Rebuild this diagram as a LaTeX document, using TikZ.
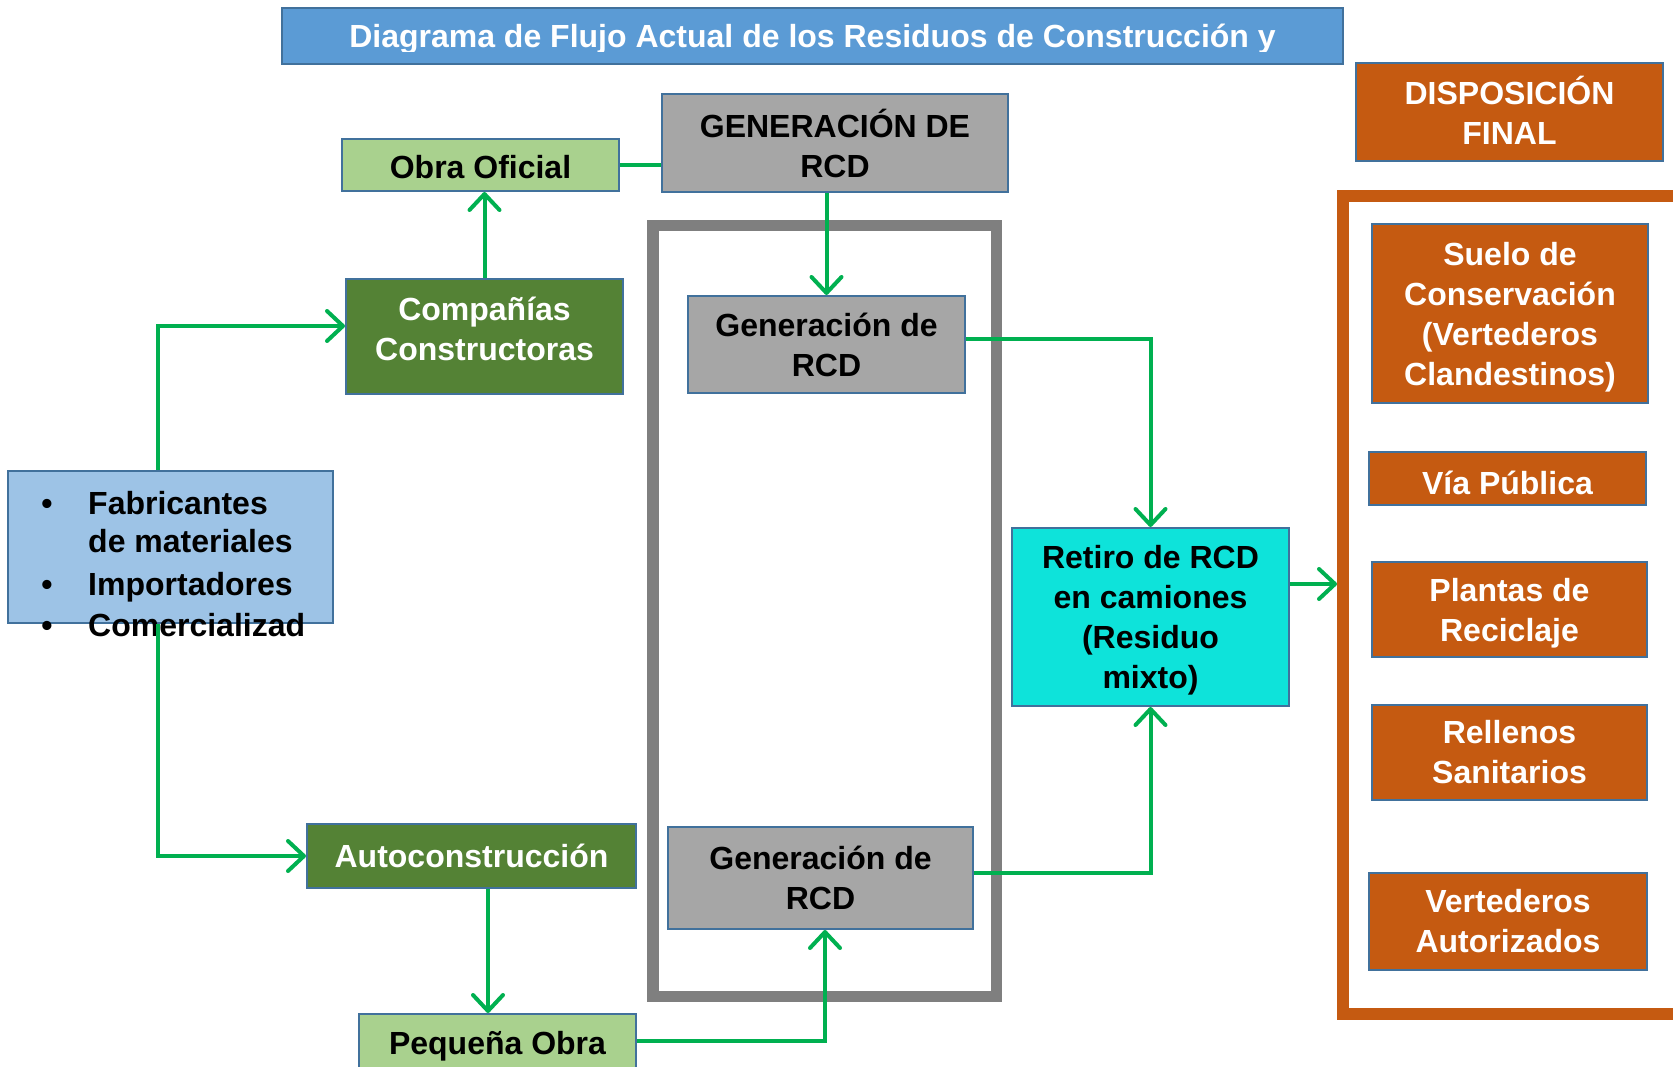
\documentclass[tikz,border=0pt]{standalone}
\usepackage{fontspec}
\setmainfont{Liberation Sans}
\usetikzlibrary{arrows.meta}

\definecolor{flowgreen}{RGB}{0,176,80}
\definecolor{edgeblue}{RGB}{65,113,156}
\definecolor{titleblue}{RGB}{91,155,213}
\definecolor{paleblue}{RGB}{157,195,230}
\definecolor{palegreen}{RGB}{169,209,142}
\definecolor{darkgreen}{RGB}{84,130,53}
\definecolor{midgray}{RGB}{166,166,166}
\definecolor{framegray}{RGB}{127,127,127}
\definecolor{rust}{RGB}{197,90,17}
\definecolor{aqua}{RGB}{14,227,218}

\begin{document}
\begin{tikzpicture}[x=1pt,y=-1pt,
  lbl/.style={font=\bfseries\fontsize{32}{40}\selectfont, inner sep=0pt, align=center},
  box/.style={lbl, draw=edgeblue, line width=2pt},
  greenbox/.style={box, fill=palegreen, text=black},
  darkbox/.style={box, fill=darkgreen, text=white},
  graybox/.style={box, fill=midgray, text=black},
  rustbox/.style={box, fill=rust, text=white},
  flow/.style={draw=flowgreen, line width=4pt},
  arr/.style={flow, -{Straight Barb[length=16pt,width=30pt,line cap=round,line join=round]}},
  itemtext/.style={lbl, anchor=base west},
  bulletmark/.style={lbl, anchor=base}
]
\useasboundingbox (0,0) rectangle (1673,1067);

% title banner (second line cut off by the box)
\node[box, fill=titleblue, minimum width=1061pt, minimum height=56pt] (title) at (812.5,36) {};
\begin{scope}
  \clip (282,8) rectangle (1343,52);
  \node[lbl, text=white, anchor=base] (titletext) at (812.5,48)
    {Diagrama de Flujo Actual de los Residuos de Construcción y};
\end{scope}

% frames
\node[draw=framegray, line width=11.5pt, minimum width=343.5pt, minimum height=771pt, inner sep=0pt] (genframe) at (824.75,611) {};
\node[draw=rust, line width=12pt, minimum width=336pt, minimum height=817.5pt, inner sep=0pt] (dispframe) at (1511,605.25) {};

% generation side
\node[greenbox, minimum width=277pt, minimum height=52pt] (obra) at (480.5,165) {};
\node[lbl] (obralabel) at (480.5,167) {Obra Oficial};
\node[graybox, minimum width=346pt, minimum height=98pt] (gen) at (835,143) {GENERACIÓN DE\\RCD};
\node[graybox, minimum width=277pt, minimum height=97pt] (gentop) at (826.5,344.5) {Generación de\\RCD};
\node[darkbox, minimum width=277pt, minimum height=115pt] (comp) at (484.5,336.5) {};
\node[lbl, text=white] (complabel) at (484.5,329) {Compañías\\Constructoras};
\node[darkbox, minimum width=329pt, minimum height=64pt] (auto) at (471.5,856) {Autoconstrucción};
\node[greenbox, minimum width=277pt, minimum height=54pt] (peq) at (497.5,1041) {};
\node[lbl] (peqlabel) at (497.5,1046) {Pequeña Obra};
\node[graybox, minimum width=305pt, minimum height=102pt] (genbot) at (820.5,878) {Generación de\\RCD};
\node[box, fill=aqua, minimum width=277pt, minimum height=178pt] (ret) at (1150.5,617) {};
\node[lbl] (retlabel) at (1150.5,620) {Retiro de RCD\\en camiones\\(Residuo\\mixto)};

% suppliers box with its list
\node[box, fill=paleblue, minimum width=325pt, minimum height=152pt] (src) at (170.5,547) {};
\node[bulletmark] (b1) at (47,514) {•};
\node[itemtext] (i1) at (88,514) {Fabricantes};
\node[itemtext] (i1b) at (88,552) {de materiales};
\node[bulletmark] (b2) at (47,595) {•};
\node[itemtext] (i2) at (88,595) {Importadores};
\node[bulletmark] (b3) at (47,636) {•};
\node[itemtext] (i3) at (88,636) {Comercializad};

% final disposal
\node[rustbox, minimum width=307pt, minimum height=98pt] (disp) at (1509.5,112) {};
\node[lbl, text=white] (displabel) at (1509.5,110) {DISPOSICIÓN\\FINAL};
\node[rustbox, minimum width=276pt, minimum height=179pt] (suelo) at (1510,313.5) {};
\node[lbl, text=white] (suelolabel) at (1510,317.5) {Suelo de\\Conservación\\(Vertederos\\Clandestinos)};
\node[rustbox, minimum width=277pt, minimum height=53pt] (via) at (1507.5,478.5) {};
\node[lbl, text=white] (vialabel) at (1507.5,483) {Vía Pública};
\node[rustbox, minimum width=275pt, minimum height=95pt] (plantas) at (1509.5,609.5) {};
\node[lbl, text=white] (plantaslabel) at (1509.5,613.5) {Plantas de\\Reciclaje};
\node[rustbox, minimum width=275pt, minimum height=95pt] (rellenos) at (1509.5,752.5) {Rellenos\\Sanitarios};
\node[rustbox, minimum width=278pt, minimum height=97pt] (vert) at (1508,921.5) {Vertederos\\Autorizados};

% flows
\draw[arr] ([xshift=-12.5pt]src.north) |- ([yshift=10.5pt]comp.west);
\draw[arr] ([xshift=-12.5pt]src.south) |- (auto.west);
\draw[arr] (comp.north) -- (comp.north |- obra.south);
\draw[flow] (obra.east) -- (obra.east -| gen.west);
\draw[arr] (gentop.north |- gen.south) -- (gentop.north);
\draw[arr] ([yshift=5.5pt]gentop.east) -| (ret.north);
\draw[arr] ([xshift=-9.5pt]peq.north |- auto.south) -- ([xshift=-9.5pt]peq.north);
\draw[arr] (peq.east) -| ([xshift=4.5pt]genbot.south);
\draw[arr] ([yshift=5pt]genbot.east) -| (ret.south);
\draw[arr] ([yshift=33pt]ret.east) -- ([yshift=33pt]ret.east -| dispframe.west);
\end{tikzpicture}
\end{document}
